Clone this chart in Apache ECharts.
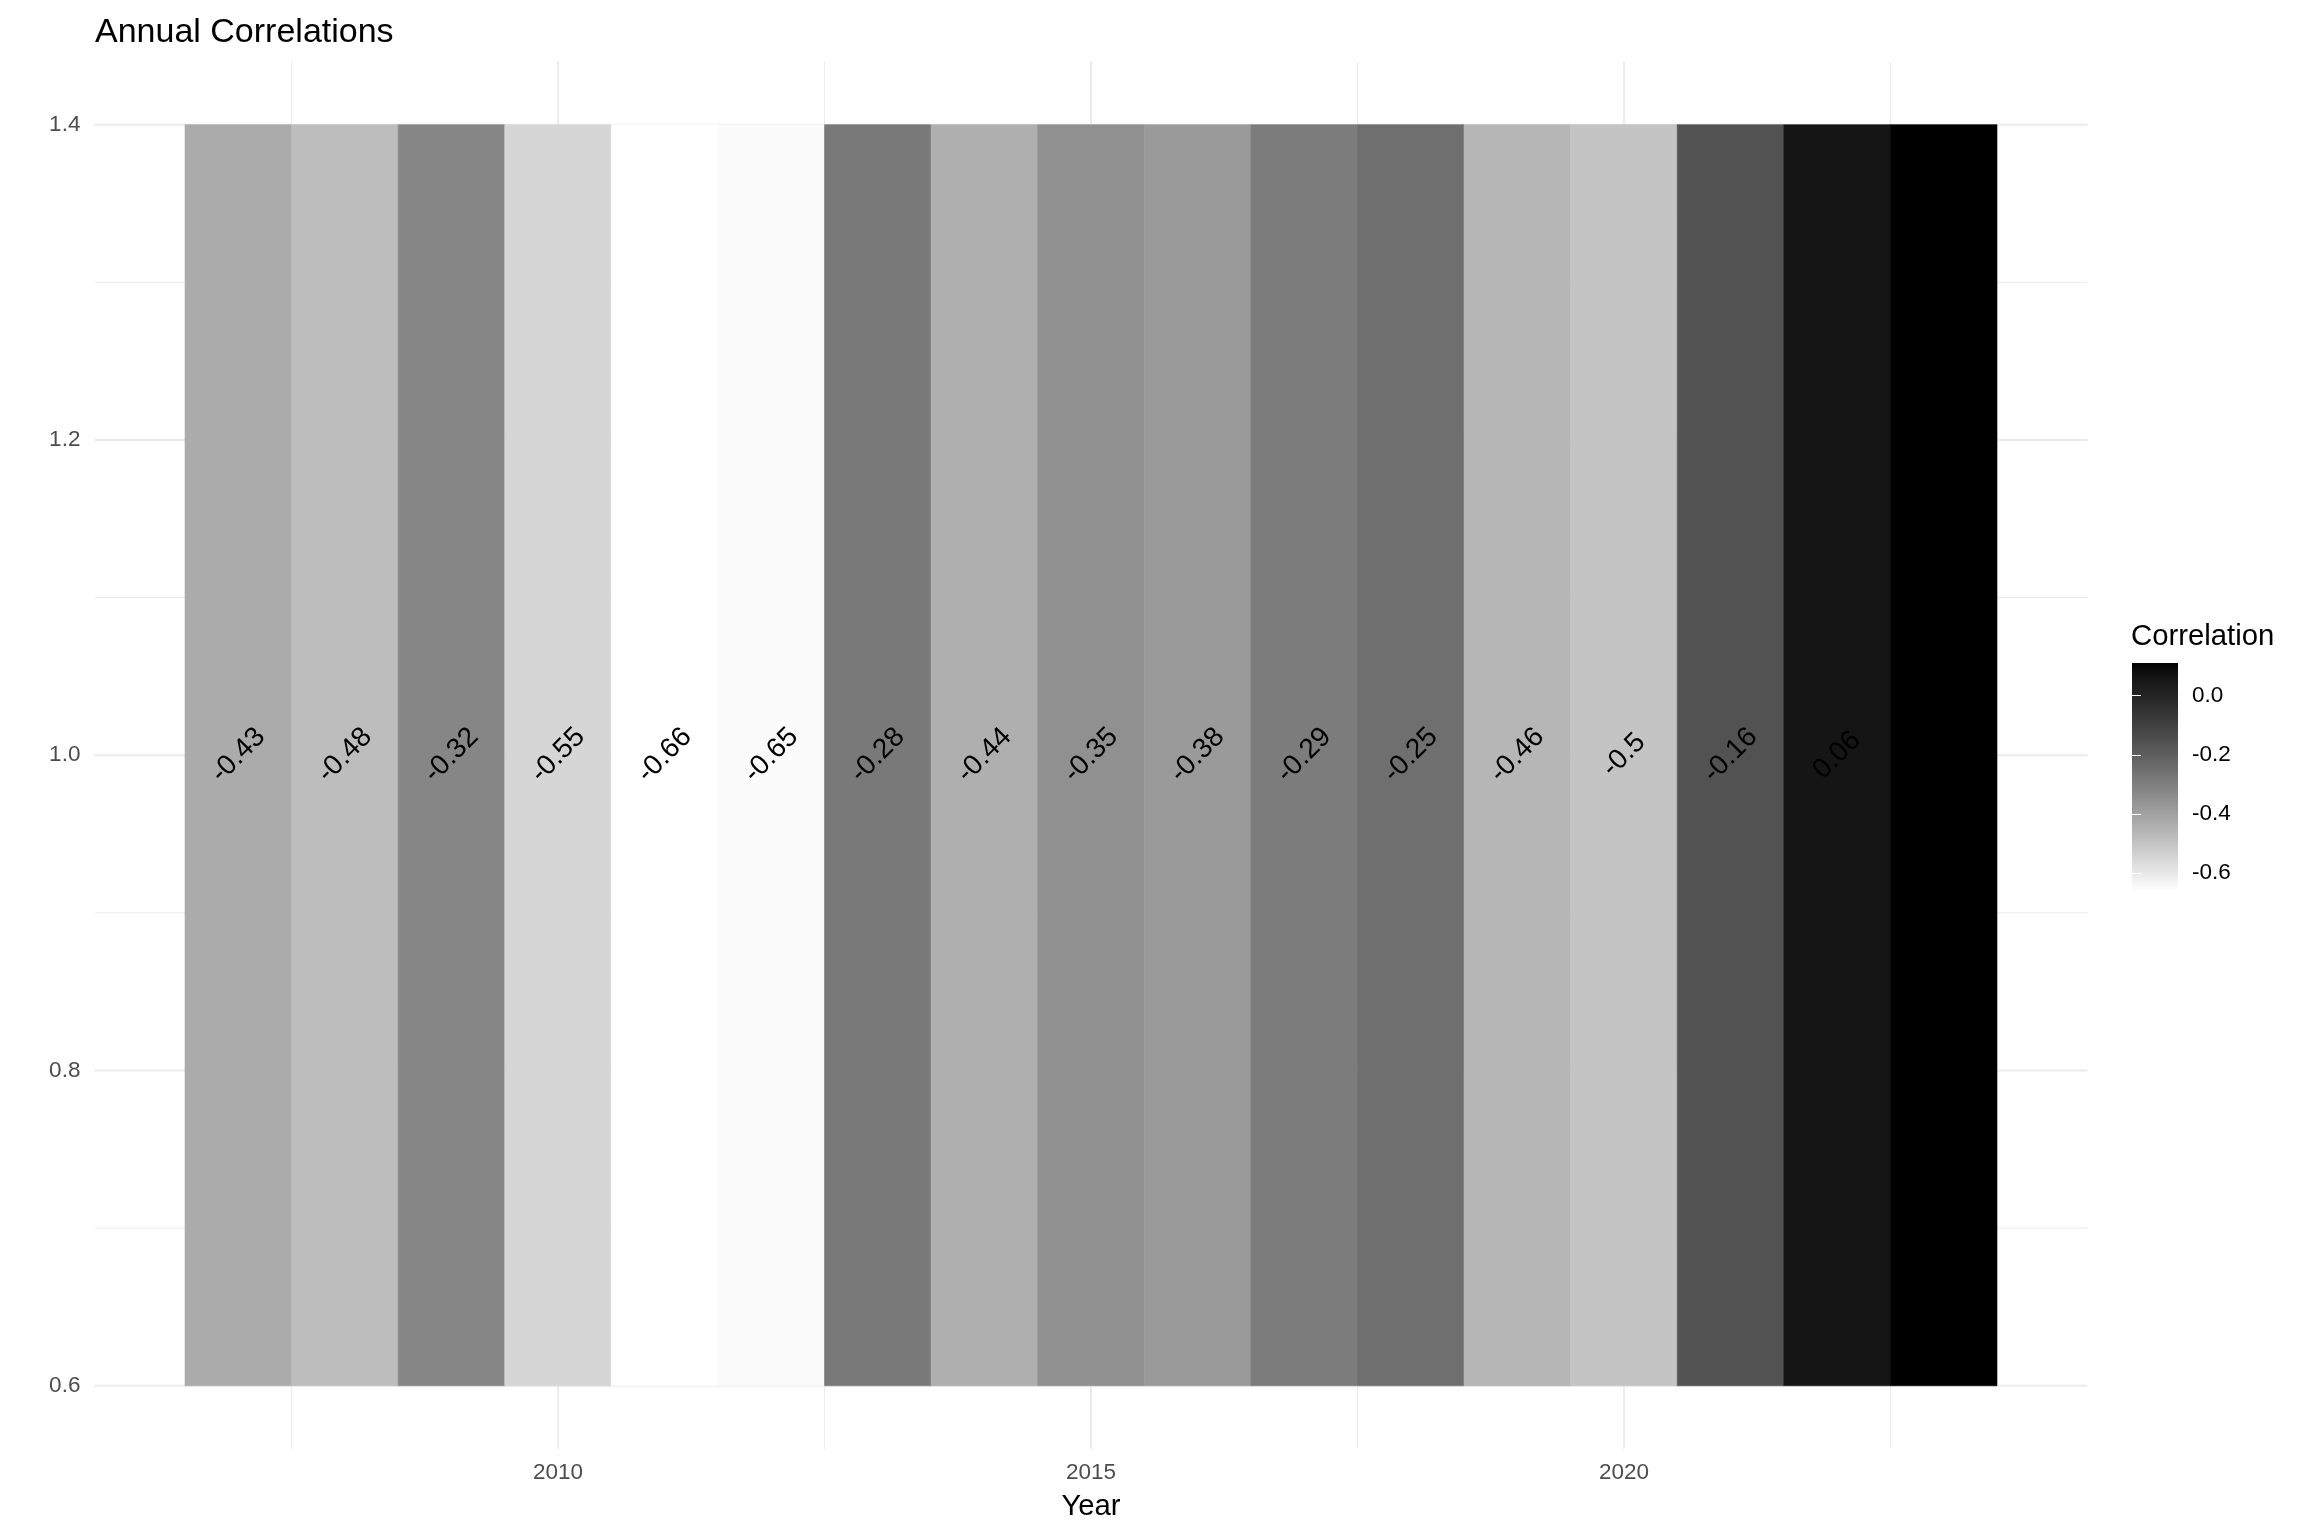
<!DOCTYPE html>
<html>
<head>
<meta charset="utf-8">
<script src="https://cdn.jsdelivr.net/npm/echarts@6/dist/echarts.min.js"></script>
<style>
html, body { margin: 0; padding: 0; background: #ffffff; }
#chart { width: 2304px; height: 1536px; }
</style>
</head>
<body>
<div id="chart"></div>
<script>
// ---------------- data ----------------
const years = [2007, 2008, 2009, 2010, 2011, 2012, 2013, 2014, 2015, 2016, 2017, 2018, 2019, 2020, 2021, 2022, 2023];
const correlations = [-0.43, -0.48, -0.32, -0.55, -0.66, -0.65, -0.28, -0.44, -0.35, -0.38, -0.29, -0.25, -0.46, -0.5, -0.16, 0.06, 0.11];
const xMajorBreaks = [2010, 2015, 2020];
const xMinorBreaks = [2007.5, 2012.5, 2017.5, 2022.5];
const yMajorBreaks = [0.6, 0.8, 1.0, 1.2, 1.4];
const yMinorBreaks = [0.7, 0.9, 1.1, 1.3];
const legendBreaks = [-0.6, -0.4, -0.2, 0.0];

// ---------------- helpers ----------------
const FONT = '"Liberation Sans", Arial, Helvetica, sans-serif';

// white -> black interpolated in CIE Lab (like ggplot2 scale_fill_gradient)
function labGray(t) {
  const L = 100 * (1 - t);
  const Y = L > 8 ? Math.pow((L + 16) / 116, 3) : L / 903.3;
  const s = Y <= 0.0031308 ? 12.92 * Y : 1.055 * Math.pow(Y, 1 / 2.4) - 0.055;
  const c = Math.round(Math.max(0, Math.min(1, s)) * 255);
  return 'rgb(' + c + ',' + c + ',' + c + ')';
}
const ramp = [];
for (let i = 0; i <= 40; i++) ramp.push(labGray(i / 40));

const vMin = Math.min.apply(null, correlations);
const vMax = Math.max.apply(null, correlations);

const tileCenter = 1;
const tileHeight = 0.8;
const xLo = years[0] - 0.5, xHi = years[years.length - 1] + 0.5;
const xPad = 0.05 * (xHi - xLo);
const yLo = tileCenter - tileHeight / 2, yHi = tileCenter + tileHeight / 2;
const yPad = 0.05 * (yHi - yLo);
const xMin = xLo - xPad, xMax = xHi + xPad;
const yMin = yLo - yPad, yMax = yHi + yPad;

// grid line items: [orientation (0 = vertical, 1 = horizontal), value, major]
const gridItems = [];
xMinorBreaks.forEach(v => gridItems.push([0, v, 0]));
yMinorBreaks.forEach(v => gridItems.push([1, v, 0]));
xMajorBreaks.forEach(v => gridItems.push([0, v, 1]));
yMajorBreaks.forEach(v => gridItems.push([1, v, 1]));

const tileData = years.map((y, i) => [y, tileCenter, correlations[i]]);

const chart = echarts.init(document.getElementById('chart'), null, { renderer: 'canvas' });

const option = {
  backgroundColor: '#ffffff',
  animation: false,
  title: [
    {
      text: 'Annual Correlations',
      left: 95, top: 16, padding: 0,
      textStyle: { fontFamily: FONT, fontSize: 34, fontWeight: 'normal', color: '#000000' }
    },
    {
      text: 'Correlation',
      left: 2131, top: 622, padding: 0,
      textStyle: { fontFamily: FONT, fontSize: 29.3, fontWeight: 'normal', color: '#000000' }
    }
  ],
  grid: [
    { left: 94.4, top: 61.6, width: 1993.2, height: 1387.2 },
    { left: 2132, top: 663, width: 46, height: 228 }
  ],
  xAxis: [
    {
      type: 'value', gridIndex: 0, min: xMin, max: xMax,
      axisLine: { show: false }, axisTick: { show: false }, splitLine: { show: false },
      axisLabel: {
        customValues: xMajorBreaks, formatter: v => String(v),
        fontFamily: FONT, fontSize: 22.5, color: '#4d4d4d', margin: 12
      },
      name: 'Year', nameLocation: 'middle', nameGap: 44,
      nameTextStyle: { fontFamily: FONT, fontSize: 29.3, color: '#000000' }
    },
    {
      type: 'value', gridIndex: 1, min: 0, max: 1, show: false
    }
  ],
  yAxis: [
    {
      type: 'value', gridIndex: 0, min: yMin, max: yMax,
      axisLine: { show: false }, axisTick: { show: false }, splitLine: { show: false },
      axisLabel: {
        customValues: yMajorBreaks, formatter: v => Number(v).toFixed(1),
        fontFamily: FONT, fontSize: 22.5, color: '#4d4d4d', margin: 14
      }
    },
    {
      type: 'value', gridIndex: 1, min: vMin, max: vMax, position: 'right', z: 10,
      axisLine: { show: false }, splitLine: { show: false },
      axisTick: { show: true, inside: true, length: 9, customValues: legendBreaks, lineStyle: { color: '#ffffff', width: 1 } },
      axisLabel: {
        customValues: legendBreaks, formatter: v => Number(v).toFixed(1),
        fontFamily: FONT, fontSize: 22.5, color: '#000000', margin: 14
      }
    },
    {
      type: 'value', gridIndex: 1, min: vMin, max: vMax, position: 'left', z: 10,
      axisLine: { show: false }, splitLine: { show: false },
      axisTick: { show: true, inside: true, length: 9, customValues: legendBreaks, lineStyle: { color: '#ffffff', width: 1 } },
      axisLabel: { show: false }
    }
  ],
  visualMap: [
    {
      type: 'continuous', show: false, seriesIndex: 1, dimension: 2,
      min: vMin, max: vMax, inRange: { color: ramp }
    }
  ],
  series: [
    {
      type: 'custom', name: 'grid', xAxisIndex: 0, yAxisIndex: 0, z: 1, silent: true,
      data: gridItems,
      renderItem: function (params, api) {
        const orient = api.value(0), v = api.value(1), major = api.value(2);
        const p1 = orient === 0 ? api.coord([v, yMin]) : api.coord([xMin, v]);
        const p2 = orient === 0 ? api.coord([v, yMax]) : api.coord([xMax, v]);
        return {
          type: 'line',
          shape: { x1: p1[0], y1: p1[1], x2: p2[0], y2: p2[1] },
          style: { stroke: '#ebebeb', lineWidth: major ? 2 : 1 }
        };
      }
    },
    {
      type: 'custom', name: 'tiles', xAxisIndex: 0, yAxisIndex: 0, z: 2, silent: true,
      encode: { x: 0, y: 1 },
      data: tileData,
      renderItem: function (params, api) {
        const yr = api.value(0), yc = api.value(1), val = api.value(2);
        const a = api.coord([yr - 0.5, yc + tileHeight / 2]);
        const b = api.coord([yr + 0.5, yc - tileHeight / 2]);
        const c = api.coord([yr, yc]);
        const col = api.visual('color');
        return {
          type: 'group',
          children: [
            {
              type: 'rect',
              shape: { x: a[0], y: a[1], width: b[0] - a[0], height: b[1] - a[1] },
              style: { fill: col, stroke: col, lineWidth: 0.6 }
            },
            {
              type: 'text', x: c[0], y: c[1], rotation: Math.PI / 4, z2: 5,
              style: {
                text: String(val), fill: '#000000',
                fontFamily: FONT, fontSize: 28,
                align: 'center', verticalAlign: 'middle'
              }
            }
          ]
        };
      }
    },
    {
      type: 'custom', name: 'colorbar', xAxisIndex: 1, yAxisIndex: 1, z: 2, silent: true,
      data: [[0, vMax]],
      renderItem: function (params, api) {
        const a = api.coord([0, vMax]);
        const b = api.coord([1, vMin]);
        const stops = [];
        for (let i = 0; i < ramp.length; i++) {
          stops.push({ offset: i / (ramp.length - 1), color: ramp[ramp.length - 1 - i] });
        }
        return {
          type: 'rect',
          shape: { x: a[0], y: a[1], width: b[0] - a[0], height: b[1] - a[1] },
          style: { fill: { type: 'linear', x: 0, y: 0, x2: 0, y2: 1, colorStops: stops } }
        };
      }
    }
  ]
};

chart.setOption(option);
</script>
</body>
</html>
